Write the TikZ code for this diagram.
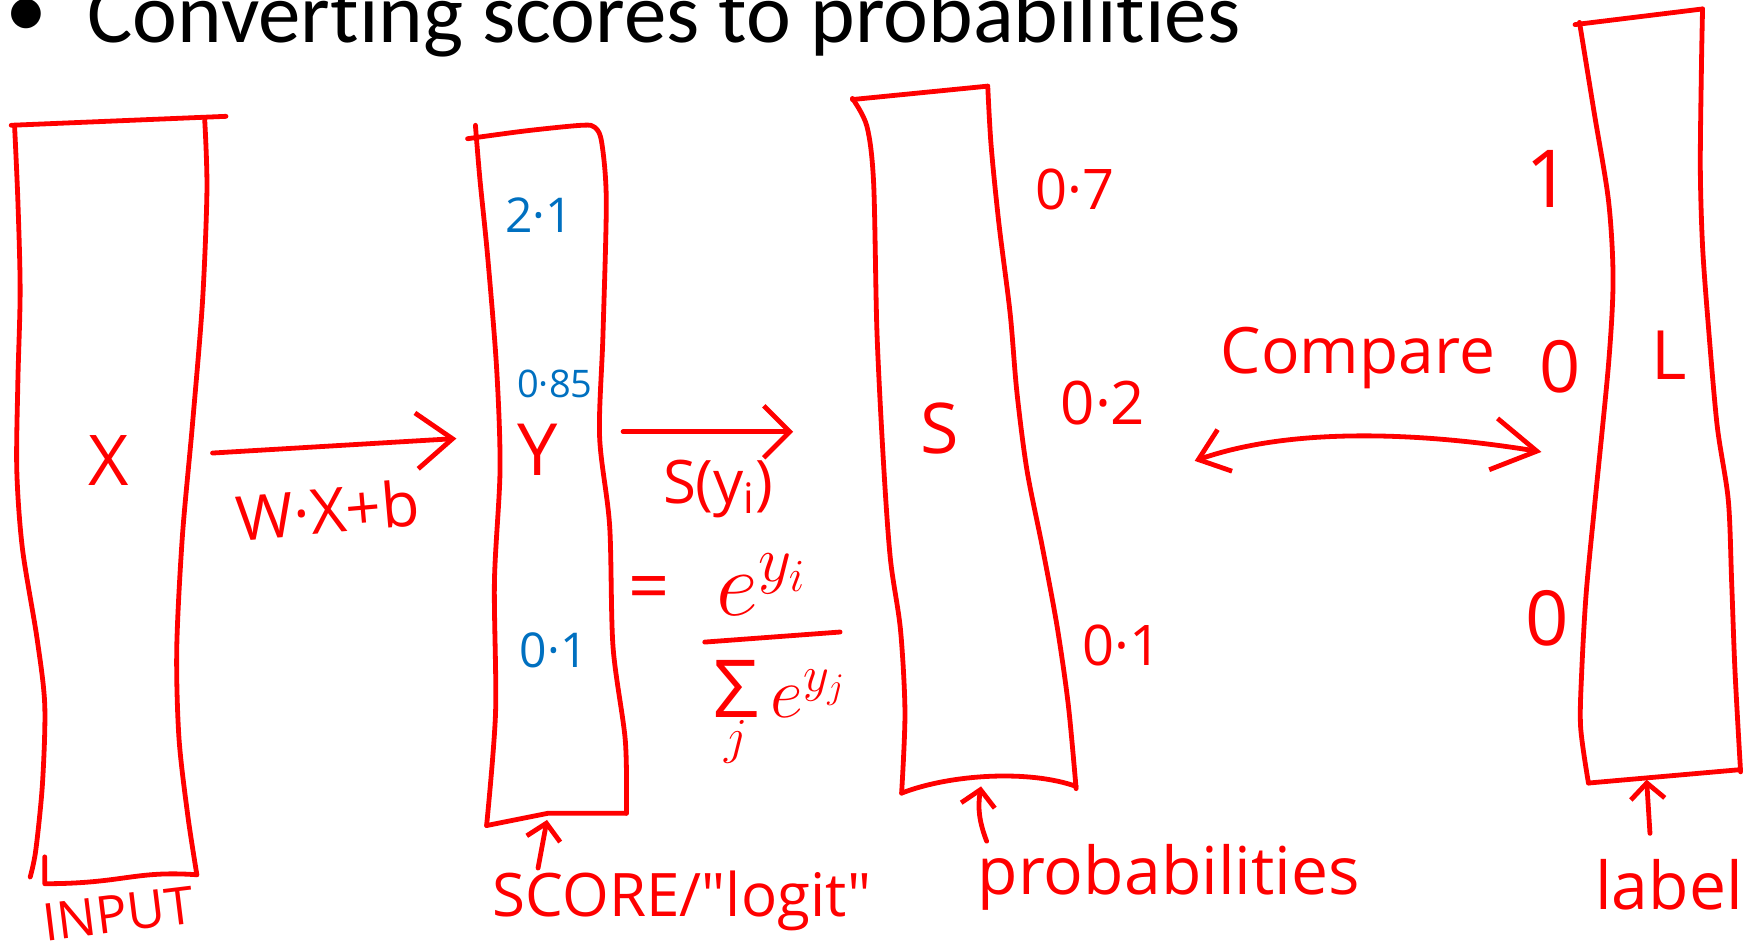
\RequirePackage{fix-cm}
\documentclass[tikz,border=0pt]{standalone}
\usepackage{fontspec}
\setmainfont{Carlito}[Ligatures={NoCommon}]
\newfontfamily\hand{Open Sans}
\usetikzlibrary{arrows.meta}
\definecolor{pen}{RGB}{255,0,0}
\definecolor{ink}{RGB}{0,112,192}
\tikzset{
  box/.style    = {draw=pen, line width=2.4pt, line cap=round, line join=round},
  arr/.style    = {box, -{Straight Barb[length=18pt,width=28pt]}},
  arrmid/.style = {box, -{Straight Barb[length=13pt,width=26pt]}},
  arrup/.style  = {box, -{Straight Barb[length=8pt,width=17pt]}},
  both/.style   = {box, {Straight Barb[length=14pt,width=22pt]}-{Straight Barb[length=22pt,width=26pt]}},
  hw/.style     = {text=pen, inner sep=0pt, font=\hand\fontsize{#1}{#1}\selectfont},
  val/.style    = {text=ink, inner sep=0pt, font=\hand\fontsize{#1}{#1}\selectfont}
}

\begin{document}
\begin{tikzpicture}[x=0.5593pt, y=-0.5593pt]
  \useasboundingbox (0,0) rectangle (1568,848);
  \clip (0,0) rectangle (1568,848);

  % ---- title ----
  \node[inner sep=0, font=\fontsize{42}{42}\selectfont] (bul) at (24,16) {\textbullet};
  \node[inner sep=0, anchor=base west, font=\fontsize{42.5}{42}\selectfont] (title) at (78,38) {Converting scores to probabilities};

  % ---- input column ----
  \draw[box] (10,112) -- (202,104);
  \draw[box] plot[smooth] coordinates {(13,112) (16,180) (18,260) (16,340) (15,420) (20,490) (33,570) (40,630) (38,700) (32,760) (27,784)};
  \draw[box] plot[smooth] coordinates {(183,107) (185,170) (181,270) (172,380) (163,480) (158,580) (160,660) (168,730) (176,782)};
  \draw[box] (40,766) -- (40,790) .. controls (110,790) and (120,778) .. (176,782);
  \node[hw=35] (x) at (97,412) {X};
  \node[hw=26, rotate=7] (input) at (106,817) {INPUT};

  % ---- W.X+b ----
  \coordinate (xout) at (190,405);
  \coordinate (yin) at (408,392);
  \draw[arr] (xout) -- (yin);
  \node[hw=31, rotate=5] (wxb) at (293,456) {W·X+b};

  % ---- score column ----
  \draw[box] plot[smooth] coordinates {(418,124) (470,117) (520,112) (532,114) (538,128) (542,180) (539,300) (536,390) (545,470) (548,578) (559,662) (560,727)};
  \draw[box] plot[smooth] coordinates {(425,112) (429,160) (436,230) (444,330) (447,420) (442,520) (443,637) (435,738)};
  \draw[box] (560,727) -- (490,727) -- (435,738);
  \node[val=24] (v1) at (482,192) {2·1};
  \node[val=19] (v2) at (496,343) {0·85};
  \node[hw=36] (y) at (481,402) {Y};
  \node[val=24] (v3) at (495,581) {0·1};

  % ---- softmax ----
  \coordinate (yout) at (557,386);
  \coordinate (sin) at (709,386);
  \draw[arrmid] (yout) -- (sin);
  \node[hw=30] (sy) at (642,437) {S(y\textsubscript{i})};
  \node[hw=36] (eq) at (580,531) {=};
  \node[hw=46, anchor=base west] (numer) at (640,550) {$e^{y_i}$};
  \draw[box] (630,574) -- (751,565);
  \node[hw=36, anchor=north] (denom) at (697,590) {$\mathop{\hbox{\fontsize{40}{40}\selectfont Σ}}\limits_j e^{y_j}$};

  % ---- probabilities column ----
  \draw[box] (762,89) -- (883,77);
  \draw[box] plot[smooth] coordinates {(883,77) (886,130) (893,200) (903,280) (909,350) (918,420) (932,490) (945,560) (955,630) (962,705)};
  \draw[box] plot[smooth] coordinates {(762,88) (775,113) (781,164) (784,298) (790,417) (796,500) (805,563) (809,637) (806,709)};
  \draw[box] (806,709) .. controls (850,692) and (920,688) .. (962,703);
  \node[hw=35] (s) at (840,383) {S};
  \node[hw=28] (p1) at (961,169) {0·7};
  \node[hw=30] (p2) at (986,360) {0·2};
  \node[hw=28] (p3) at (1003,577) {0·1};

  % ---- compare ----
  \coordinate (sout) at (1068,412);
  \coordinate (lin) at (1378,404);
  \draw[both] (sout) .. controls (1160,380) and (1280,388) .. (lin);
  \node[hw=32] (cmp) at (1214,320) {Compare};

  % ---- label column ----
  \draw[box] (1408,22) -- (1522,8);
  \draw[box] plot[smooth] coordinates {(1412,20) (1425,100) (1438,180) (1442,250) (1438,325) (1426,447) (1418,530) (1414,600) (1413,650) (1420,700)};
  \draw[box] plot[smooth] coordinates {(1522,8) (1521,60) (1520,150) (1522,220) (1527,289) (1535,380) (1545,447) (1548,520) (1551,600) (1556,690)};
  \draw[box] (1420,700) -- (1556,688);
  \node[hw=40] (l1) at (1384,160) {1};
  \node[hw=36] (l2) at (1395,328) {0};
  \node[hw=34] (lbig) at (1492,318) {L};
  \node[hw=38] (l3) at (1383,553) {0};

  % ---- captions ----
  \node[hw=30] (score) at (610,805) {SCORE/"logit"};
  \node[hw=33] (prob) at (1045,784) {probabilities};
  \node[hw=33] (lab) at (1492,791) {label};
  \coordinate (scoretail) at (481,776);
  \coordinate (yfoot) at (489,733);
  \draw[arrup] (scoretail) -- (yfoot);
  \coordinate (probtail) at (882,752);
  \coordinate (sfoot) at (877,703);
  \draw[arrup] (probtail) to[bend left=15] (sfoot);
  \coordinate (labtail) at (1475,745);
  \coordinate (lfoot) at (1472,697);
  \draw[arrup] (labtail) -- (lfoot);

\end{tikzpicture}
\end{document}
